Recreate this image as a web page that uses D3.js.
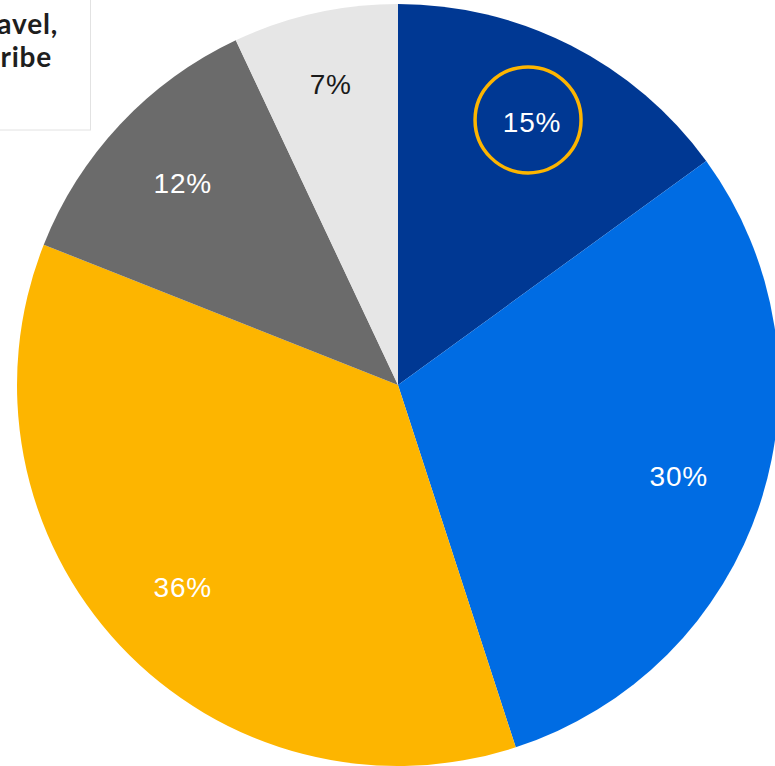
<!DOCTYPE html>
<html><head><meta charset="utf-8">
<script src="https://cdn.jsdelivr.net/npm/d3@7"></script>
<style>html,body{margin:0;padding:0;background:#fff;overflow:hidden}</style>
</head><body>
<svg id="c" width="775" height="766"></svg>
<script>
const categories = ["A", "B", "C", "D", "E"];
const values = [15, 30, 36, 12, 7];
const labels = ["15%", "30%", "36%", "12%", "7%"];
const colors = ["#003893", "#006CE3", "#FDB500", "#6B6B6B", "#E6E6E6"];
const labelColors = ["#ffffff", "#ffffff", "#ffffff", "#ffffff", "#1a1a1a"];
const boxLines = ["avel,", "ribe"];

const svg = d3.select("#c");
const cx = 398, cy = 385, R = 381;

const pie = d3.pie().sort(null).value(d => d)(values);
const arc = d3.arc().innerRadius(0).outerRadius(R);
const labelPos = (d, i) => {
  const k = i === 4 ? 0.81 : 0.775;
  return d3.arc().innerRadius(R * k).outerRadius(R * k).centroid(d);
};

const g = svg.append("g").attr("transform", `translate(${cx},${cy})`);
g.selectAll("path").data(pie).join("path")
  .attr("d", arc)
  .attr("fill", (d, i) => colors[i]);

g.selectAll("text.lbl").data(pie).join("text")
  .attr("class", "lbl")
  .attr("transform", (d, i) => `translate(${labelPos(d, i)})`)
  .attr("text-anchor", "middle")
  .attr("dy", "0.36em")
  .attr("font-family", "Liberation Sans, Arial, sans-serif")
  .attr("font-size", 28)
  .attr("letter-spacing", 0.8)
  .attr("fill", (d, i) => labelColors[i])
  .text((d, i) => labels[i]);

// highlight circle around first label
const c0 = labelPos(pie[0], 0);
g.append("circle")
  .attr("cx", c0[0] - 4).attr("cy", c0[1] - 2)
  .attr("r", 53)
  .attr("fill", "none")
  .attr("stroke", "#FDB500")
  .attr("stroke-width", 3.5);

// top-left text box
svg.append("rect")
  .attr("x", -2).attr("y", -2).attr("width", 92.5).attr("height", 132)
  .attr("fill", "#fff").attr("stroke", "#e2e2e2").attr("stroke-width", 1);
svg.selectAll("text.box").data(boxLines).join("text")
  .attr("class", "box")
  .attr("x", (d, i) => i === 0 ? 58 : 52)
  .attr("y", (d, i) => 34 + i * 33)
  .attr("text-anchor", "end")
  .attr("font-family", "Lato, 'Noto Sans', sans-serif")
  .attr("font-weight", "bold")
  .attr("font-size", 28)
  .attr("letter-spacing", 0.8)
  .attr("fill", "#1e1e1e")
  .text(d => d);
</script>
</body></html>
